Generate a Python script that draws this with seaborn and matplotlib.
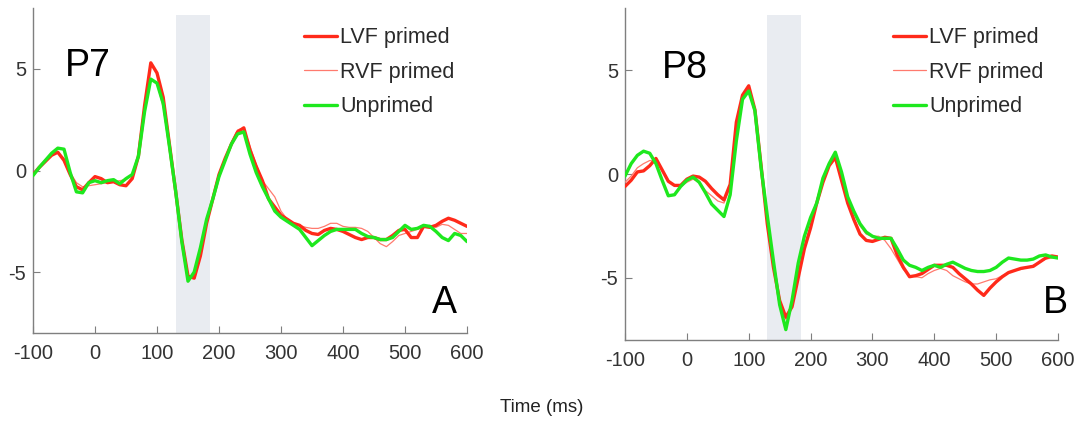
import numpy as np
import pandas as pd
import matplotlib
matplotlib.use("Agg")
import matplotlib.pyplot as plt
import seaborn as sns
from matplotlib.lines import Line2D

sns.set_theme(style="white")
plt.rcParams['font.family'] = ['Liberation Sans', 'DejaVu Sans']

time_ms = list(range(-100, 610, 10))
conditions = ["LVF primed", "RVF primed", "Unprimed"]
panel_names = ["P7", "P8"]
panel_letters = ["A", "B"]
xticks = [-100, 0, 100, 200, 300, 400, 500, 600]
yticks = [-5, 0, 5]
window = (130, 185)

p7_lvf = [-0.2, 0.15, 0.45, 0.75, 0.9, 0.5, -0.2, -0.8, -0.95, -0.6, -0.3, -0.4, -0.6, -0.55, -0.7, -0.75, -0.4, 0.7, 3.2, 5.3,
          4.8, 3.6, 1.3, -1.0, -3.4, -5.2, -5.3, -4.2, -2.6, -1.4, -0.2, 0.6, 1.3, 1.9, 2.1, 1.0, 0.2, -0.5, -1.4, -1.8,
          -2.2, -2.4, -2.6, -2.7, -2.95, -3.1, -3.15, -2.95, -2.85, -2.9, -3.0, -3.15, -3.3, -3.4, -3.3, -3.3, -3.4, -3.4, -3.2, -2.95,
          -2.9, -3.3, -3.3, -2.75, -2.8, -2.7, -2.5, -2.35, -2.45, -2.6, -2.75]
p7_rvf = [-0.2, 0.1, 0.4, 0.75, 0.9, 0.6, -0.1, -0.6, -0.8, -0.75, -0.7, -0.65, -0.6, -0.55, -0.5, -0.45, -0.2, 0.7, 3.1, 4.5,
          4.3, 3.1, 1.1, -1.1, -3.4, -5.3, -5.2, -4.0, -2.6, -1.4, -0.3, 0.6, 1.4, 2.0, 2.1, 1.2, 0.3, -0.5, -0.9, -1.3,
          -2.0, -2.4, -2.6, -2.7, -2.8, -2.85, -2.85, -2.75, -2.6, -2.6, -2.75, -2.8, -2.8, -2.85, -3.0, -3.3, -3.6, -3.75, -3.5, -3.2,
          -3.1, -3.0, -2.9, -2.8, -2.7, -2.8, -2.65, -2.7, -2.9, -3.1, -3.1]
p7_unp = [-0.25, 0.15, 0.5, 0.85, 1.1, 1.05, -0.1, -1.05, -1.1, -0.6, -0.5, -0.6, -0.5, -0.45, -0.65, -0.4, -0.2, 0.7, 2.9, 4.5,
          4.3, 3.3, 1.2, -1.0, -3.5, -5.45, -5.0, -3.8, -2.4, -1.4, -0.3, 0.5, 1.3, 1.8, 1.9, 0.8, -0.1, -0.8, -1.4, -2.0,
          -2.3, -2.5, -2.7, -2.9, -3.3, -3.7, -3.45, -3.2, -3.0, -2.9, -2.9, -2.9, -2.9, -3.1, -3.25, -3.3, -3.4, -3.4, -3.3, -3.0,
          -2.7, -2.9, -2.85, -2.7, -2.75, -3.0, -3.3, -3.45, -3.1, -3.2, -3.5]

p8_lvf = [-0.6, -0.3, 0.1, 0.15, 0.4, 0.75, 0.2, -0.35, -0.55, -0.55, -0.25, -0.1, -0.15, -0.35, -0.7, -1.0, -1.25, -0.5, 2.5, 3.8,
          4.25, 3.1, 0.4, -2.4, -4.5, -6.1, -6.9, -6.4, -5.0, -3.6, -2.6, -1.4, -0.4, 0.4, 0.8, -0.3, -1.4, -2.2, -2.9, -3.2,
          -3.25, -3.15, -3.05, -3.1, -3.9, -4.5, -4.95, -4.9, -4.8, -4.6, -4.4, -4.4, -4.4, -4.5, -4.8, -5.05, -5.3, -5.6, -5.85, -5.5,
          -5.2, -4.95, -4.75, -4.65, -4.55, -4.5, -4.45, -4.25, -4.05, -3.95, -4.0]
p8_rvf = [-0.4, -0.1, 0.3, 0.5, 0.65, 0.6, 0.2, -0.3, -0.55, -0.6, -0.4, -0.25, -0.4, -0.8, -1.05, -1.3, -1.4, -0.6, 2.3, 3.7,
          4.0, 3.0, 0.4, -2.2, -4.4, -6.2, -7.0, -6.3, -4.8, -3.5, -2.5, -1.4, -0.3, 0.5, 0.9, 0.0, -1.2, -1.9, -2.5, -2.9,
          -3.0, -3.0, -3.2, -3.6, -4.1, -4.6, -4.9, -4.95, -5.0, -4.8, -4.65, -4.55, -4.65, -4.9, -5.05, -5.2, -5.3, -5.3, -5.2, -5.1,
          -5.05, -4.9, -4.75, -4.65, -4.6, -4.5, -4.4, -4.25, -4.1, -4.05, -4.0]
p8_unp = [-0.1, 0.5, 0.9, 1.1, 1.0, 0.5, -0.3, -1.05, -1.0, -0.6, -0.3, -0.15, -0.4, -0.9, -1.45, -1.75, -2.05, -1.0, 1.6, 3.6,
          4.0, 3.05, 0.3, -2.0, -4.2, -6.3, -7.5, -6.1, -4.3, -3.0, -2.1, -1.4, -0.2, 0.5, 1.05, 0.1, -1.1, -1.8, -2.4, -2.8,
          -3.0, -3.1, -3.1, -3.1, -3.6, -4.15, -4.4, -4.5, -4.65, -4.5, -4.4, -4.5, -4.35, -4.25, -4.4, -4.55, -4.65, -4.7, -4.7, -4.65,
          -4.5, -4.25, -4.05, -4.1, -4.15, -4.15, -4.1, -3.95, -3.9, -4.0, -4.05]

panels = [
    {"LVF primed": p7_lvf, "RVF primed": p7_rvf, "Unprimed": p7_unp},
    {"LVF primed": p8_lvf, "RVF primed": p8_rvf, "Unprimed": p8_unp},
]

styles = {
    "LVF primed": dict(color="#ff2a1a", lw=2.4),
    "RVF primed": dict(color="#ff7a6e", lw=0.9),
    "Unprimed": dict(color="#1ee81e", lw=2.4),
}
draw_order = ["RVF primed", "LVF primed", "Unprimed"]

fig = plt.figure(figsize=(10.83, 4.24), dpi=100)
axes_rects = [
    [33 / 1083, 1 - 333 / 424, 434 / 1083, 325 / 424],
    [625 / 1083, 1 - 340 / 424, 433 / 1083, 332 / 424],
]
name_pos = [(0.074, 0.79), (0.085, 0.79)]
letter_pos = [(0.977, 0.062), (1.023, 0.081)]
legend_anchor = [(1.016, 1.0), (1.012, 1.0)]

spine_col = "#7f7f7f"
for i, rect in enumerate(axes_rects):
    ax = fig.add_axes(rect)
    data = panels[i]
    df = pd.DataFrame({
        "t": np.tile(time_ms, len(conditions)),
        "v": np.concatenate([data[c] for c in conditions]),
        "cond": np.repeat(conditions, len(time_ms)),
    })
    ax.axvspan(window[0], window[1], ymin=0, ymax=0.98, color="#e9ecf1", lw=0, zorder=0)
    for c in draw_order:
        sub = df[df["cond"] == c]
        sns.lineplot(data=sub, x="t", y="v", ax=ax, color=styles[c]["color"],
                     linewidth=styles[c]["lw"], legend=False, zorder=3)
    ax.set_xlim(-100, 600)
    ax.set_ylim(-8, 8)
    ax.set_xticks(xticks)
    ax.set_yticks(yticks)
    ax.set_xticklabels([str(v) for v in xticks])
    ax.set_yticklabels([str(v) for v in yticks])
    ax.set_xlabel("")
    ax.set_ylabel("")
    for s in ["top", "right"]:
        ax.spines[s].set_visible(False)
    for s in ["left", "bottom"]:
        ax.spines[s].set_color(spine_col)
        ax.spines[s].set_linewidth(1.0)
    ax.tick_params(axis="both", direction="in", length=5, width=0.8, color=spine_col,
                   labelsize=14.5, labelcolor="#333333", bottom=True, left=True)
    ax.tick_params(axis="x", pad=8)
    ax.tick_params(axis="y", pad=5)
    ax.patch.set_alpha(0)
    ax.text(name_pos[i][0], name_pos[i][1], panel_names[i], transform=ax.transAxes,
            fontsize=27, color="black", ha="left", va="baseline")
    ax.text(letter_pos[i][0], letter_pos[i][1], panel_letters[i], transform=ax.transAxes,
            fontsize=27, color="black", ha="right", va="baseline")
    handles = [Line2D([0], [0], color=styles[c]["color"], lw=styles[c]["lw"]) for c in conditions]
    leg = ax.legend(handles, conditions, loc="upper right", bbox_to_anchor=legend_anchor[i],
                    frameon=False, fontsize=15.5, handlelength=1.55, handletextpad=0.15,
                    labelspacing=0.62, borderaxespad=0.5)
    for txt in leg.get_texts():
        txt.set_color("#2a2a2a")

fig.text(0.5, 0.04, "Time (ms)", ha="center", va="center", fontsize=13.5, color="#222222")
fig.savefig("out.png", dpi=100)
